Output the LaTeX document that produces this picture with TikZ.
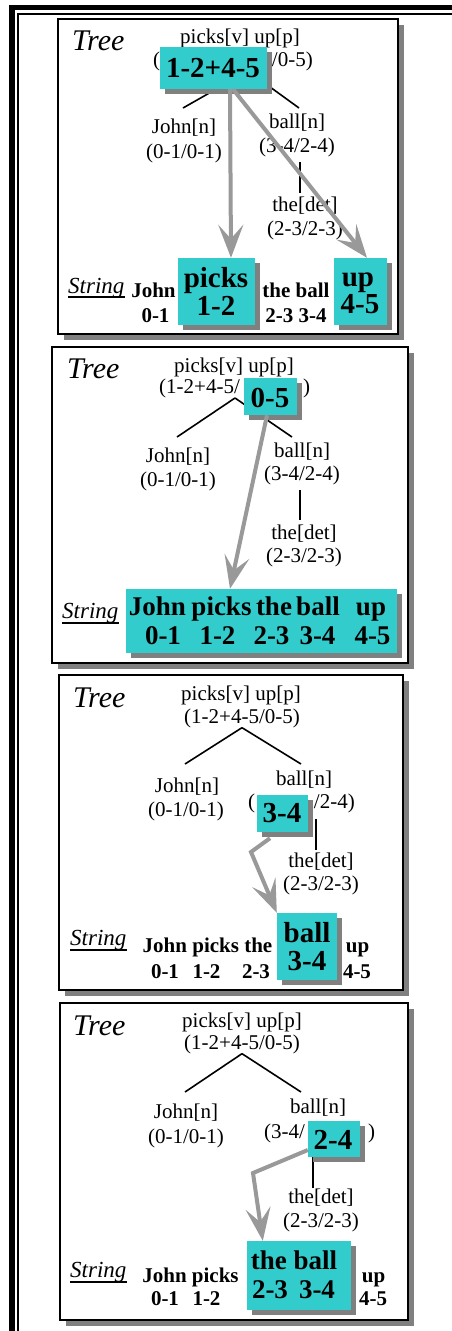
\documentclass[tikz,border=0pt]{standalone}
\usepackage{fontspec}
\setmainfont{Liberation Serif}
\usepackage{xcolor}
\usepackage{tikz}
\usetikzlibrary{arrows.meta,shadows}
\definecolor{boxcyan}{RGB}{51,204,204}
\definecolor{shadowgray}{RGB}{128,128,128}
\definecolor{arrowgray}{RGB}{153,153,153}

\begin{document}
\begin{tikzpicture}[x=1pt,y=-1pt,
  lbl/.style={font=\fontsize{21}{23}\selectfont,inner sep=0pt,anchor=base},
  wrd/.style={font=\fontsize{21}{23}\selectfont\bfseries,inner sep=0pt,anchor=base},
  bigwrd/.style={font=\fontsize{29}{30}\selectfont\bfseries,inner sep=0pt,anchor=base},
  boxwrd/.style={font=\fontsize{27}{28}\selectfont\bfseries,inner sep=0pt,anchor=base},
  treelbl/.style={font=\fontsize{30}{32}\selectfont\itshape,inner sep=0pt,anchor=base west},
  strng/.style={font=\fontsize{23}{25}\selectfont\itshape,inner sep=0pt,anchor=base west},
  uline/.style={line width=1.2pt},
  hibox/.style={fill=boxcyan,inner sep=0pt,drop shadow={shadow xshift=5pt,shadow yshift=-5pt,fill=shadowgray,opacity=1}},
  branch/.style={line width=1.6pt},
  ptr/.style={draw=arrowgray,line width=4pt,-{Stealth[length=33pt,width=25pt,inset=14pt]}},
  panel/.style={draw=black,line width=1.5pt,fill=white}]

\useasboundingbox (0,0) rectangle (452,1331);

\fill (9,5) rectangle (452,10);
\fill (9,5) rectangle (15,1331);
\fill (17,13) rectangle (452,15);
\fill (17,13) rectangle (19,1331);

\fill[shadowgray] (64,25) rectangle (404,340);
\draw[panel] (58,19) rectangle (398,334);
\node[treelbl] (tr1) at (72,50) {Tree};
\node[lbl] (hd1) at (240,43) {picks[v] up[p]};
\node[lbl,anchor=base west] (ob1) at (153,66) {(};
\node[lbl,anchor=base east] (cb1) at (313,66) {/0-5)};
\node[lbl] (jn1) at (184,133) {John[n]};
\node[lbl] (js1) at (184,158) {(0-1/0-1)};
\node[lbl] (bn1) at (297,128) {ball[n]};
\node[lbl] (bs1) at (297,152) {(3-4/2-4)};
\node[lbl] (dn1) at (305,211) {the[det]};
\node[lbl] (ds1) at (305,235) {(2-3/2-3)};
\coordinate (r1) at (248,71);
\coordinate (j1) at (183,108);
\coordinate (k1) at (299,108);
\coordinate (m1) at (300,162);
\coordinate (d1) at (300,193);
\draw[branch] (r1) -- (j1);
\draw[branch] (r1) -- (k1);
\draw[branch] (m1) -- (d1);
\node[hibox,minimum width=107pt,minimum height=42pt] (bx1) at (213.5,68) {};
\node[bigwrd] (bt1) at (213,77) {1-2+4-5};
\node[strng] (st1) at (68,293) {String};
\draw[uline] ([yshift=-4pt]st1.base west) -- ([yshift=-4pt]st1.base east);
\node[wrd] (w11) at (153.5,297) {John};
\node[wrd] (n11) at (155.5,322) {0-1};
\node[hibox,minimum width=77pt,minimum height=67pt] (pk1) at (216.5,291.5) {};
\node[bigwrd] (pw1) at (216,287) {picks};
\node[bigwrd] (pn1) at (216,315) {1-2};
\node[wrd] (w12) at (296,297) {the ball};
\node[wrd] (n12) at (296,322) {2-3 3-4};
\node[hibox,minimum width=53pt,minimum height=67pt] (up1) at (360.5,291.5) {};
\node[bigwrd] (uw1) at (358,286.5) {up};
\node[bigwrd] (un1) at (360,313) {4-5};
\draw[ptr] ([xshift=16.5pt]bx1.south) -- ([xshift=14.5pt]pk1.north);
\draw[ptr] ([xshift=19.5pt]bx1.south) -- ([xshift=6.5pt]up1.north);

\fill[shadowgray] (58,353) rectangle (414,669);
\draw[panel] (52,347) rectangle (408,663);
\node[treelbl] (tr2) at (67,378) {Tree};
\node[lbl] (hd2) at (234,372) {picks[v] up[p]};
\node[lbl,anchor=base west] (ob2) at (159,393) {(1-2+4-5/};
\node[lbl,anchor=base west] (cb2) at (303,393) {)};
\node[lbl] (jn2) at (178,462) {John[n]};
\node[lbl] (js2) at (178,486) {(0-1/0-1)};
\node[lbl] (bn2) at (302,457) {ball[n]};
\node[lbl] (bs2) at (302,480) {(3-4/2-4)};
\node[lbl] (dn2) at (304,539) {the[det]};
\node[lbl] (ds2) at (304,562) {(2-3/2-3)};
\coordinate (r2) at (235,398);
\coordinate (j2) at (177,437);
\coordinate (k2) at (292,437);
\coordinate (m2) at (300,490);
\coordinate (d2) at (300,520);
\draw[branch] (r2) -- (j2);
\draw[branch] (r2) -- (k2);
\draw[branch] (m2) -- (d2);
\node[hibox,minimum width=53pt,minimum height=37pt] (bx2) at (270.5,396.5) {};
\node[bigwrd] (bt2) at (270,407) {0-5};
\node[strng] (st2) at (62,618) {String};
\draw[uline] ([yshift=-5pt]st2.base west) -- ([yshift=-5pt]st2.base east);
\node[hibox,minimum width=271pt,minimum height=64pt] (sb2) at (261.5,621) {};
\node[boxwrd] (w21) at (157.5,615) {John};
\node[boxwrd] (w22) at (221.5,615) {picks};
\node[boxwrd] (w23) at (274,615) {the};
\node[boxwrd] (w24) at (318,615) {ball};
\node[boxwrd] (w25) at (371,615) {up};
\node[boxwrd] (n21) at (163,644) {0-1};
\node[boxwrd] (n22) at (217.5,644) {1-2};
\node[boxwrd] (n23) at (271.5,644) {2-3};
\node[boxwrd] (n24) at (317.5,644) {3-4};
\node[boxwrd] (n25) at (372.5,644) {4-5};
\draw[ptr] ([xshift=-3.5pt]bx2.south) -- ([xshift=-31.5pt]sb2.north);

\fill[shadowgray] (65,681) rectangle (409,996);
\draw[panel] (59,675) rectangle (403,990);
\node[treelbl] (tr3) at (73,707) {Tree};
\node[lbl] (hd3) at (241,700) {picks[v] up[p]};
\node[lbl] (hs3) at (242,723) {(1-2+4-5/0-5)};
\node[lbl] (jn3) at (187,792) {John[n]};
\node[lbl] (js3) at (186,816) {(0-1/0-1)};
\node[lbl] (bn3) at (304,785) {ball[n]};
\node[lbl,anchor=base west] (ob3) at (248,808) {(};
\node[lbl,anchor=base east] (cb3) at (355,808) {/2-4)};
\node[lbl] (dn3) at (321,867) {the[det]};
\node[lbl] (ds3) at (321,890) {(2-3/2-3)};
\coordinate (j3) at (185,764);
\coordinate (k3) at (301,764);
\coordinate (m3) at (316,819);
\coordinate (d3) at (316,850);
\draw[branch] (hs3.south) -- (j3);
\draw[branch] (hs3.south) -- (k3);
\draw[branch] (m3) -- (d3);
\node[hibox,minimum width=51pt,minimum height=37pt] (bx3) at (282.5,813.5) {};
\node[bigwrd] (bt3) at (282,822) {3-4};
\node[strng] (st3) at (70,945) {String};
\draw[uline] ([yshift=-5pt]st3.base west) -- ([yshift=-5pt]st3.base east);
\node[wrd] (w31) at (207.5,952) {John picks the};
\node[wrd] (n31) at (165,978) {0-1};
\node[wrd] (n32) at (206.5,978) {1-2};
\node[wrd] (n33) at (256,978) {2-3};
\node[hibox,minimum width=60pt,minimum height=67pt] (bl3) at (307,946.5) {};
\node[bigwrd] (lw3) at (307,942) {ball};
\node[bigwrd] (ln3) at (307,970) {3-4};
\node[wrd] (w32) at (357.5,952) {up};
\node[wrd] (n34) at (357,978) {4-5};
\coordinate (q3) at (251,852);
\draw[ptr] ([xshift=-12.5pt,yshift=-6pt]bx3.south) -- (q3) -- (bl3.north west);

\fill[shadowgray] (66,1009) rectangle (414,1326);
\draw[panel] (60,1003) rectangle (408,1320);
\node[treelbl] (tr4) at (73,1035) {Tree};
\node[lbl] (hd4) at (242,1027) {picks[v] up[p]};
\node[lbl] (hs4) at (242,1049) {(1-2+4-5/0-5)};
\node[lbl] (jn4) at (186,1118) {John[n]};
\node[lbl] (js4) at (186,1143) {(0-1/0-1)};
\node[lbl] (bn4) at (318,1113) {ball[n]};
\node[lbl,anchor=base west] (ob4) at (264,1138) {(3-4/};
\node[lbl,anchor=base west] (cb4) at (368,1138) {)};
\node[lbl] (dn4) at (321,1203) {the[det]};
\node[lbl] (ds4) at (321,1227) {(2-3/2-3)};
\coordinate (j4) at (185,1092);
\coordinate (k4) at (301,1092);
\coordinate (m4) at (313,1150);
\coordinate (d4) at (313,1188);
\draw[branch] (hs4.south) -- (j4);
\draw[branch] (hs4.south) -- (k4);
\draw[branch] (m4) -- (d4);
\node[hibox,minimum width=52pt,minimum height=36pt] (bx4) at (334,1139) {};
\node[bigwrd] (bt4) at (333,1149) {2-4};
\node[strng] (st4) at (70,1277) {String};
\draw[uline] ([yshift=-5pt]st4.base west) -- ([yshift=-5pt]st4.base east);
\node[wrd] (w41) at (190.5,1282) {John picks};
\node[wrd] (n41) at (165,1305) {0-1};
\node[wrd] (n42) at (206.5,1305) {1-2};
\node[hibox,minimum width=104pt,minimum height=69pt] (tb4) at (299,1275.5) {};
\node[boxwrd] (tw4) at (294,1269) {the ball};
\node[boxwrd] (tn4) at (270,1298) {2-3};
\node[boxwrd] (tn5) at (317,1298) {3-4};
\node[wrd] (w42) at (373.5,1282) {up};
\node[wrd] (n43) at (373,1305) {4-5};
\coordinate (q4) at (253,1173);
\draw[ptr] ([yshift=-11pt]bx4.west) -- (q4) -- ([xshift=16pt]tb4.north west);

\end{tikzpicture}
\end{document}
